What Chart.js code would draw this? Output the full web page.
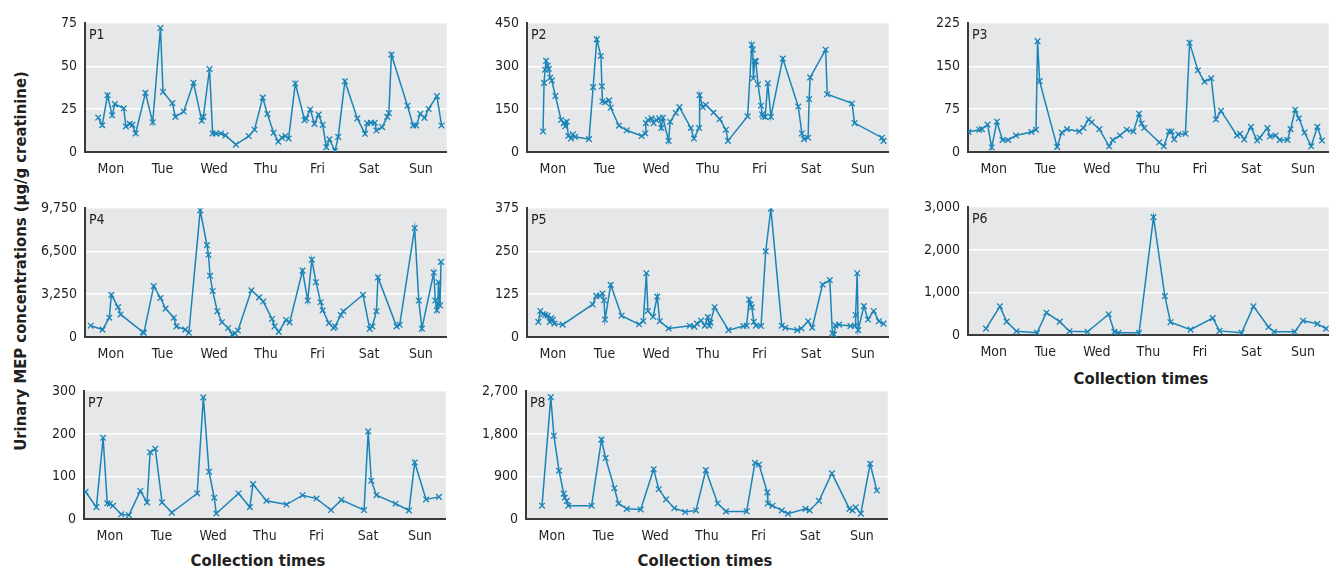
<!DOCTYPE html>
<html><head><meta charset="utf-8">
<script src="https://cdn.jsdelivr.net/npm/chart.js@4/dist/chart.umd.min.js"></script>
<style>
html,body{margin:0;padding:0;background:#fff;width:1334px;height:569px;overflow:hidden;position:relative;font-family:'Liberation Sans Narrow','DejaVu Sans Condensed',sans-serif;color:#231f20;}
.pan{position:absolute;}
.xt{position:absolute;font-weight:bold;font-size:16.5px;white-space:nowrap;transform:translate(-50%,-50%);}
.yt{position:absolute;font-weight:bold;font-size:16.5px;white-space:nowrap;transform:translate(-50%,-50%) rotate(-90deg);}
</style></head><body>
<div class="yt" style="left:20px;top:261px;">Urinary MEP concentrations (µg/g creatinine)</div>
<div class="xt" style="left:258px;top:560px;">Collection times</div>
<div class="xt" style="left:705px;top:560px;">Collection times</div>
<div class="xt" style="left:1141px;top:378px;">Collection times</div>
<script>
const dayLabels = ['Mon','Tue','Wed','Thu','Fri','Sat','Sun'];
const dayTicks = [0.5,1.5,2.5,3.5,4.5,5.5,6.5];

const p1Days = [0.256,0.333,0.436,0.526,0.577,0.75,0.79,0.865,0.917,0.98,1.17,1.31,1.46,1.51,1.69,1.75,1.91,2.10,2.26,2.29,2.41,2.47,2.53,2.63,2.72,2.92,3.17,3.28,3.44,3.53,3.65,3.74,3.81,3.88,3.94,4.07,4.25,4.28,4.36,4.44,4.52,4.6,4.67,4.73,4.84,4.9,5.03,5.27,5.42,5.46,5.53,5.61,5.64,5.75,5.85,5.88,5.93,6.24,6.35,6.41,6.49,6.57,6.65,6.81,6.9];
const p1Vals = [20.1,15.6,33.1,21.4,27.9,25.5,14.9,16.4,15.8,10.8,34.5,17.3,72.3,35,28.5,20.5,23.6,40.4,18.2,20.5,48.4,10.8,10.8,10.8,9.7,4.3,9.3,13,31.7,22.2,11.2,6,8.4,9.3,7.8,40,18.6,19.6,24.8,16.4,21.8,15.8,2.8,7.4,0.6,8.8,41.3,19.6,10.6,16.8,17.1,17.1,12.5,14.5,20.5,22.7,56.8,27,15.5,15.5,22.3,19.9,25.1,32.6,15.5];

const p2Days = [0.31,0.33,0.35,0.37,0.40,0.42,0.45,0.48,0.55,0.66,0.71,0.74,0.77,0.80,0.85,0.89,0.93,1.2,1.28,1.35,1.43,1.45,1.46,1.51,1.59,1.62,1.78,1.93,2.22,2.29,2.3,2.34,2.41,2.45,2.5,2.56,2.6,2.63,2.74,2.77,2.88,2.95,3.17,3.23,3.33,3.34,3.40,3.46,3.61,3.73,3.85,3.89,4.27,4.35,4.37,4.38,4.41,4.43,4.47,4.53,4.55,4.57,4.61,4.66,4.72,4.95,5.25,5.32,5.36,5.44,5.46,5.48,5.78,5.81,6.29,6.34,6.87,6.9];
const p2Vals = [72,242,288,319,302,291,260,250,196,112,101,90,106,56,47,62,53,45,227,394,336,230,177,174,181,155,92,76,56,65,101,112,118,101,112,118,84,120,39,106,137,157,84,47,84,199,157,165,138,115,78,39,125,375,358,258,319,317,237,162,132,125,123,241,123,327,159,65,45,50,185,261,358,202,170,101,50,39];

const p3Days = [0.01,0.22,0.27,0.38,0.46,0.56,0.67,0.78,0.93,1.23,1.32,1.35,1.39,1.73,1.82,1.92,2.16,2.24,2.34,2.4,2.55,2.74,2.81,2.95,3.08,3.21,3.32,3.37,3.42,3.71,3.8,3.9,3.95,4.0,4.08,4.22,4.3,4.46,4.59,4.72,4.81,4.91,5.22,5.28,5.36,5.49,5.61,5.66,5.81,5.86,5.97,6.05,6.2,6.26,6.35,6.42,6.53,6.66,6.78,6.87];
const p3Vals = [35,39,40,48,8,53,21,21,29,35,39,194,124,9,34,40,36,42,57,52,40,10,21,29,39,36,67,50,42,17,10,36,36,22,31,32,191,143,123,129,57,72,29,32,22,44,20,25,42,27,29,21,21,40,74,59,34,10,44,20];

const p4Days = [0.11,0.34,0.47,0.51,0.64,0.69,1.12,1.14,1.33,1.46,1.56,1.72,1.77,1.94,2.01,2.23,2.36,2.39,2.42,2.47,2.56,2.65,2.77,2.85,2.9,2.96,3.22,3.37,3.45,3.62,3.67,3.75,3.89,3.96,4.21,4.31,4.39,4.47,4.56,4.6,4.72,4.81,4.84,4.95,5.0,5.38,5.51,5.56,5.64,5.67,6.03,6.09,6.38,6.46,6.52,6.75,6.78,6.81,6.83,6.84,6.87,6.89];
const p4Vals = [855,562,1466,3201,2272,1710,367,318,3861,2957,2150,1466,806,562,318,9603,6964,6231,4643,3494,1955,1124,684,195,269,489,3543,3006,2688,1368,806,391,1295,1100,5034,2761,5865,4154,2639,2028,1051,684,806,1662,1955,3201,611,806,1955,4521,806,928,8259,2761,635,4887,2761,2028,2517,4154,2395,5694];

const p5Days = [0.22,0.26,0.31,0.35,0.4,0.44,0.47,0.5,0.53,0.69,1.27,1.34,1.41,1.46,1.49,1.51,1.62,1.83,2.17,2.25,2.31,2.34,2.44,2.52,2.57,2.74,3.15,3.24,3.29,3.37,3.44,3.5,3.53,3.55,3.63,3.9,4.19,4.25,4.3,4.33,4.35,4.39,4.43,4.53,4.62,4.72,4.93,5.0,5.23,5.31,5.44,5.52,5.72,5.86,5.91,5.94,5.97,6.04,6.26,6.35,6.36,6.39,6.41,6.52,6.6,6.71,6.81,6.9];
const p5Vals = [44,76,67,64,62,44,55,50,39,36,95,120,120,127,107,51,152,62,37,46,186,76,59,118,46,25,33,30,39,48,33,58,33,42,87,20,32,33,109,95,87,44,33,32,250,374,33,27,20,25,46,27,153,166,11,7,34,36,32,33,64,186,20,90,51,76,46,39];

const p6Days = [0.35,0.62,0.75,0.94,1.34,1.52,1.78,1.97,2.32,2.73,2.84,2.92,3.32,3.6,3.82,3.93,4.32,4.75,4.88,5.31,5.54,5.83,5.94,6.34,6.5,6.78,6.95];
const p6Vals = [150,674,315,90,52,524,315,90,75,487,75,52,52,2772,914,300,127,397,97,52,674,187,75,75,337,262,150];

const p7Days = [0.03,0.24,0.37,0.45,0.5,0.56,0.72,0.87,1.09,1.22,1.28,1.38,1.51,1.7,2.19,2.31,2.42,2.52,2.56,2.99,3.21,3.27,3.53,3.92,4.23,4.5,4.78,4.98,5.42,5.5,5.56,5.66,6.03,6.29,6.4,6.62,6.87];
const p7Vals = [64,28,191,37,36,31,11,9,66,39,157,165,39,15,60,286,111,50,13,60,28,82,43,34,56,48,21,45,21,206,90,56,36,20,133,46,52];

const p8Days = [0.31,0.48,0.54,0.64,0.73,0.75,0.79,0.82,1.27,1.46,1.54,1.71,1.79,1.95,2.22,2.47,2.57,2.71,2.87,3.08,3.29,3.48,3.71,3.87,4.27,4.43,4.51,4.67,4.68,4.77,4.95,5.07,5.41,5.49,5.67,5.92,6.26,6.32,6.38,6.48,6.66,6.79];
const p8Vals = [282,2579,1760,1021,537,450,383,282,282,1679,1290,651,329,215,201,1054,631,416,228,148,181,1034,329,161,161,1189,1155,564,329,282,181,114,215,181,383,967,215,181,248,114,1169,604];

const panelNames = ['P1','P2','P3','P4','P5','P6','P7','P8'];
const panelDays = [p1Days,p2Days,p3Days,p4Days,p5Days,p6Days,p7Days,p8Days];
const panelVals = [p1Vals,p2Vals,p3Vals,p4Vals,p5Vals,p6Vals,p7Vals,p8Vals];
const yMaxes = [75,450,225,9750,375,3000,300,2700];

// layout: plot-area boxes [left, top, right, bottom]
const boxes = [
  [85,17,449,152],[526.5,17,890,152],[968,17,1331,152],
  [85,201.5,449,336],[526.5,201.5,890,336],[968,201,1331,335],
  [84,385,448,519],[526,385,890,519]
];

const LINE = '#1a84b8';
const FONT = "'Liberation Sans Narrow','DejaVu Sans Condensed',sans-serif";
const TXT = '#231f20';
const AX = '#3a3a3a';
const YW = 50, TOP = 10, RP = 3, XH = 32;

const bgPlugin = {
  id:'bg',
  beforeDraw(chart){
    const a = chart.chartArea, c = chart.ctx;
    c.save(); c.fillStyle = '#e6e7e8';
    c.fillRect(a.left, a.top, a.right-a.left, a.bottom-a.top);
    c.restore();
  }
};
const labelPlugin = {
  id:'plabel',
  afterDraw(chart, args, opts){
    const a = chart.chartArea, c = chart.ctx;
    c.save(); c.fillStyle = TXT; c.font = '14px ' + FONT;
    c.textBaseline = 'top'; c.textAlign = 'left';
    c.fillText(opts.text, a.left + 4, a.top + 5);
    c.restore();
  }
};

panelNames.forEach((name, i) => {
  const [l,t,r,b] = boxes[i];
  const M = yMaxes[i];
  const div = document.createElement('div');
  div.className = 'pan';
  const W = Math.round(r - l + YW + RP), H = Math.round(b - t + TOP + XH);
  div.style.left = (l - YW) + 'px';
  div.style.top = (t - TOP) + 'px';
  div.style.width = W + 'px'; div.style.height = H + 'px';
  const cv = document.createElement('canvas');
  cv.width = W; cv.height = H;
  cv.style.width = W + 'px'; cv.style.height = H + 'px';
  div.appendChild(cv);
  document.body.appendChild(div);
  const pts = panelDays[i].map((d,k) => ({x:d, y:panelVals[i][k]}));
  new Chart(cv, {
    type:'line',
    data:{datasets:[{data:pts, borderColor:LINE, borderWidth:1.5, pointStyle:'crossRot', pointRadius:4, pointBorderColor:LINE, pointBackgroundColor:LINE, pointBorderWidth:1.3, fill:false, tension:0}]},
    options:{
      animation:false, responsive:false, maintainAspectRatio:false,
      layout:{padding:{top:TOP, right:RP, left:0, bottom:0}},
      plugins:{legend:{display:false}, tooltip:{enabled:false}, plabel:{text:name}},
      scales:{
        x:{type:'linear', min:0, max:7,
           afterBuildTicks:s => { s.ticks = dayTicks.map(v => ({value:v})); },
           ticks:{callback:v => dayLabels[Math.floor(v)], font:{family:FONT, size:14}, color:TXT, padding:9, maxRotation:0, autoSkip:false},
           grid:{display:false, drawTicks:false},
           border:{display:true, color:AX, width:2},
           afterFit:s => { s.height = XH; }},
        y:{min:0, max:M,
           afterBuildTicks:s => { s.ticks = [0,1,2,3].map(k => ({value:M*k/3})); },
           ticks:{font:{family:FONT, size:14}, color:TXT, padding:8, callback:v => Math.round(v).toLocaleString('en-US')},
           grid:{color:ctx => (ctx.tick && (ctx.tick.value === 0 || ctx.tick.value === M)) ? 'rgba(0,0,0,0)' : '#ffffff', lineWidth:1.5, drawTicks:false},
           border:{display:true, color:AX, width:2},
           afterFit:s => { s.width = YW; }}
      }
    },
    plugins:[bgPlugin, labelPlugin]
  });
});
</script>
</body></html>
